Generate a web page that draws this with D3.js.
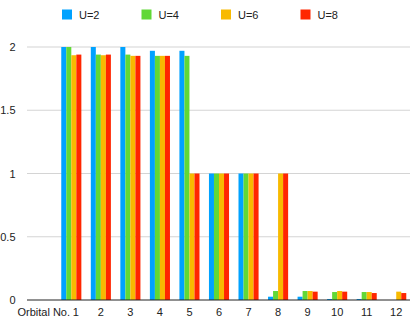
<!DOCTYPE html>
<html>
<head>
<meta charset="utf-8">
<script src="https://cdn.jsdelivr.net/npm/d3@7"></script>
<style>
  body { margin: 0; background: #fff; }
  text { font-family: "Liberation Sans", Arial, Helvetica, sans-serif; }
</style>
</head>
<body>
<svg id="chart" width="415" height="321"></svg>
<script>
// categories (first slot is the axis title column, no bars)
var orbitals = ["Orbital No.", "1", "2", "3", "4", "5", "6", "7", "8", "9", "10", "11", "12"];
var seriesNames = ["U=2", "U=4", "U=6", "U=8"];
var seriesColors = ["#00a2ff", "#61d836", "#f8ba00", "#ff2600"];
var yTicks = [0, 0.5, 1, 1.5, 2];

// values per orbital 1..12
var u2 = [2.0, 2.0, 2.0, 1.97, 1.97, 1.0, 1.0, 0.026, 0.026, 0.008, 0.008, 0];
var u4 = [2.0, 1.94, 1.94, 1.93, 1.93, 1.0, 1.0, 0.071, 0.071, 0.063, 0.063, 0];
var u6 = [1.935, 1.935, 1.93, 1.93, 1.0, 1.0, 1.0, 1.0, 0.071, 0.071, 0.063, 0.066];
var u8 = [1.94, 1.94, 1.93, 1.93, 1.0, 1.0, 1.0, 1.0, 0.066, 0.066, 0.055, 0.055];
var seriesValues = [u2, u4, u6, u8];

var svg = d3.select("#chart");

var x = d3.scaleBand().domain(orbitals).range([27, 411])
    .paddingInner(0.32).paddingOuter(0.16);
var xs = d3.scaleBand().domain(seriesNames).range([0, x.bandwidth()]);
var y = d3.scaleLinear().domain([0, 2]).range([300, 47]);

// gridlines
svg.append("g").selectAll("line")
    .data(yTicks.filter(d => d > 0))
    .enter().append("line")
    .attr("x1", 27).attr("x2", 410)
    .attr("y1", d => y(d)).attr("y2", d => y(d))
    .style("stroke", "#d4d4d4").style("stroke-width", 1.2);

// y tick labels
svg.append("g").selectAll("text")
    .data(yTicks)
    .enter().append("text")
    .attr("x", 15.5).attr("y", d => y(d) + 4)
    .attr("text-anchor", "end")
    .style("font-size", "11px").style("fill", "#222")
    .text(d => d);

// bars
var rows = [];
orbitals.slice(1).forEach(function(o, i) {
    seriesNames.forEach(function(s, j) {
        rows.push({ orb: o, s: s, v: seriesValues[j][i], c: seriesColors[j] });
    });
});
svg.append("g").selectAll("rect")
    .data(rows)
    .enter().append("rect")
    .attr("x", d => x(d.orb) + xs(d.s))
    .attr("width", xs.bandwidth())
    .attr("y", d => y(d.v))
    .attr("height", d => y(0) - y(d.v))
    .style("fill", d => d.c);

// baseline
svg.append("line")
    .attr("x1", 27).attr("x2", 410)
    .attr("y1", y(0)).attr("y2", y(0))
    .style("stroke", "#222").style("stroke-width", 1);

// x labels (first two nudged apart like the original)
svg.append("g").selectAll("text")
    .data(orbitals)
    .enter().append("text")
    .attr("x", d => x(d) + x.bandwidth() / 2)
    .attr("dx", (d, i) => i === 0 ? 2 : (i === 1 ? 4.5 : 0))
    .attr("y", 316)
    .attr("text-anchor", "middle")
    .style("font-size", "11px").style("fill", "#222")
    .text(d => d);

// legend
var legend = svg.append("g").selectAll("g")
    .data(seriesNames)
    .enter().append("g")
    .attr("transform", (d, i) => "translate(" + (62 + i * 79.5) + ",9.5)");
legend.append("rect")
    .attr("width", 10).attr("height", 10)
    .style("fill", (d, i) => seriesColors[i]);
legend.append("text")
    .attr("x", 17).attr("y", 9.5)
    .style("font-size", "11px").style("fill", "#222")
    .text(d => d);
</script>
</body>
</html>
